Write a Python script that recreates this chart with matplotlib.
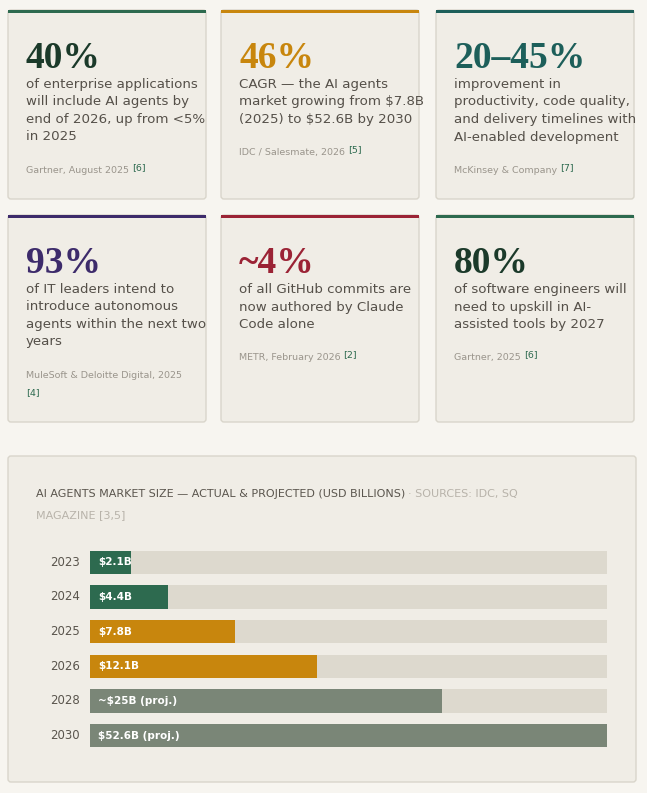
import matplotlib.pyplot as plt
from matplotlib.patches import FancyBboxPatch, Rectangle

W, H = 647, 793

# stat cards
stats = ['40%', '46%', '20–45%', '93%', '~4%', '80%']
blurbs = [
    'of enterprise applications\nwill include AI agents by\nend of 2026, up from <5%\nin 2025',
    'CAGR — the AI agents\nmarket growing from $7.8B\n(2025) to $52.6B by 2030',
    'improvement in\nproductivity, code quality,\nand delivery timelines with\nAI-enabled development',
    'of IT leaders intend to\nintroduce autonomous\nagents within the next two\nyears',
    'of all GitHub commits are\nnow authored by Claude\nCode alone',
    'of software engineers will\nneed to upskill in AI-\nassisted tools by 2027',
]
sources = ['Gartner, August 2025', 'IDC / Salesmate, 2026', 'McKinsey & Company',
           'MuleSoft & Deloitte Digital, 2025', 'METR, February 2026', 'Gartner, 2025']
refs = ['[6]', '[5]', '[7]', '[4]', '[2]', '[6]']
accents = ['#2d6a4f', '#c8860d', '#1d5f5a', '#3d2b6b', '#9b2335', '#2d6a4f']
numcols = ['#1b3a2a', '#c8860d', '#1d5f5a', '#3d2b6b', '#9b2335', '#1b3a2a']

# market chart
years = ['2023', '2024', '2025', '2026', '2028', '2030']
labels = ['$2.1B', '$4.4B', '$7.8B', '$12.1B', '~$25B (proj.)', '$52.6B (proj.)']
bar_pct = [8, 15, 28, 44, 68, 100]
bar_cols = ['#2d6a4f', '#2d6a4f', '#c8860d', '#c8860d', '#7a8677', '#7a8677']

fig = plt.figure(figsize=(W / 100, H / 100), dpi=100, facecolor='#f7f5f0')
ax = fig.add_axes([0, 0, 1, 1])
ax.set_xlim(0, W)
ax.set_ylim(H, 0)
ax.axis('off')

card_x = [8, 221, 436]
card_y = [(10, 199), (215, 422)]
for i in range(6):
    x0 = card_x[i % 3]
    y0, y1 = card_y[i // 3]
    ax.add_patch(FancyBboxPatch((x0, y0), 198, y1 - y0, boxstyle='round,pad=0,rounding_size=3',
                                fc='#f0ede6', ec='#d9d5cb', lw=1))
    ax.add_patch(Rectangle((x0, y0), 198, 3, fc=accents[i], ec='none'))
    ax.text(x0 + 18, y0 + 58, stats[i], fontsize=27, family='Liberation Serif',
            fontweight='bold', color=numcols[i], va='baseline')
    ax.text(x0 + 18, y0 + 68, blurbs[i], fontsize=9.6, color='#555049', va='top',
            linespacing=1.45)
    nl = blurbs[i].count('\n') + 1
    sy = y0 + 68 + nl * 18 + 16
    if i == 3:
        ax.text(x0 + 18, sy, sources[i], fontsize=6.8, color='#9a958c', va='top')
        ax.text(x0 + 18, sy + 17, refs[i], fontsize=6.8, color='#2d6a4f', va='top')
    else:
        t = ax.text(x0 + 18, sy, sources[i], fontsize=6.8, color='#9a958c', va='top')
        fig.canvas.draw()
        bb = t.get_window_extent()
        ax.text(x0 + 18 + bb.width + 3, sy - 3, refs[i], fontsize=6.8, color='#2d6a4f', va='top')

# chart panel
ax.add_patch(FancyBboxPatch((8, 456), 628, 326, boxstyle='round,pad=0,rounding_size=3',
                            fc='#f0ede6', ec='#d9d5cb', lw=1))
t = ax.text(36, 494, 'AI AGENTS MARKET SIZE — ACTUAL & PROJECTED (USD BILLIONS)', fontsize=8,
            color='#5a554d', va='center')
fig.canvas.draw()
bb = t.get_window_extent()
ax.text(36 + bb.width + 3, 494, '· SOURCES: IDC, SQ', fontsize=8, color='#b8b3aa', va='center')
ax.text(36, 515, 'MAGAZINE [3,5]', fontsize=8, color='#b8b3aa', va='center')

bx = fig.add_axes([90 / W, 1 - 753 / H, 517 / W, 208 / H])
bx.set_xlim(0, 100)
bx.set_ylim(len(years) - 0.5, -0.5)
bx.axis('off')
bx.barh(range(len(years)), [100] * len(years), height=0.68, color='#ddd9ce')
bx.barh(range(len(years)), bar_pct, height=0.68, color=bar_cols)
for i, (yr, lab) in enumerate(zip(years, labels)):
    bx.text(1.5, i, lab, color='white', fontsize=7.5, fontweight='bold', va='center')
    bx.text(-2, i, yr, color='#5a554d', fontsize=8.5, va='center', ha='right')

fig.savefig('out.png', dpi=100, facecolor=fig.get_facecolor())
